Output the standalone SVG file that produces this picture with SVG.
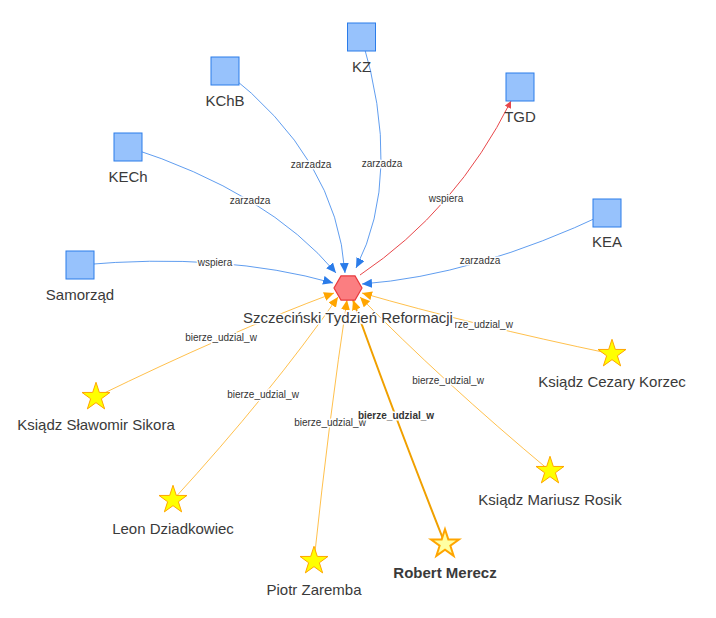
<svg xmlns="http://www.w3.org/2000/svg" width="716" height="618" viewBox="0 0 716 618">
<style>
.bg{fill:#ffffff}
.e{fill:none;stroke-width:1}
.eb{stroke:#2B7CE9;stroke-opacity:0.75;marker-end:url(#aBlue)}
.eo{stroke:#FFA500;stroke-opacity:0.7;marker-end:url(#aOrange)}
.eor{stroke:#F0A000;stroke-width:2;marker-end:url(#aOrange)}
.er{stroke:#E8474A;marker-end:url(#aRed)}
.el{font-family:"Liberation Sans",Arial,sans-serif;font-size:10px;fill:#343434;text-anchor:middle;stroke:#ffffff;stroke-width:3;paint-order:stroke;stroke-linejoin:round}
.elb{font-weight:bold}
.sq{fill:#97C2FC;stroke:#2B7CE9;stroke-width:1}
.st{fill:#FFFF00;stroke:#FFA500;stroke-width:1}
.sth{fill:#FFFFA3;stroke:#FFA500;stroke-width:2}
.hx{fill:#FB7E81;stroke:#E8393C;stroke-width:1.2}
.nl{font-family:"Liberation Sans",Arial,sans-serif;font-size:15px;fill:#3a3a3a;text-anchor:middle}
.nlc{stroke:#ffffff;stroke-width:3;paint-order:stroke;stroke-linejoin:round}
.nlb{font-weight:bold}
</style>
<defs>
<marker id="aBlue" markerUnits="userSpaceOnUse" markerWidth="11" markerHeight="9" refX="10" refY="4.5" orient="auto"><path d="M0,0 L10,4.5 L0,9 z" fill="#2B7CE9"/></marker>
<marker id="aOrange" markerUnits="userSpaceOnUse" markerWidth="11" markerHeight="9" refX="10" refY="4.5" orient="auto"><path d="M0,0 L10,4.5 L0,9 z" fill="#FFA500"/></marker>
<marker id="aRed" markerUnits="userSpaceOnUse" markerWidth="8" markerHeight="7" refX="7" refY="3.5" orient="auto"><path d="M0,0 L7,3.5 L0,7 z" fill="#E8474A"/></marker>
<polygon id="star" points="0,-14.7 3.32,-4.57 13.98,-4.54 5.37,1.75 8.64,11.89 0,5.65 -8.64,11.89 -5.37,1.75 -13.98,-4.54 -3.32,-4.57"/>
<clipPath id="clipC"><rect x="455" y="310" width="80" height="25"/></clipPath>
</defs>
<rect class="bg" x="0" y="0" width="716" height="618"/>
<g id="connectors">
<path class="e eb" d="M80,265 Q223.5,252 333,283"/>
<path class="e eb" d="M128,147 Q268,192 336,273"/>
<path class="e eb" d="M225,71 Q337,158 345,273"/>
<path class="e eb" d="M361.5,37 Q403.25,175.5 356,268"/>
<path class="e er" d="M360,275 Q456.5,210 511,101"/>
<path class="e eb" d="M607,213 Q475.5,275.5 362,284"/>
<path class="e eo" d="M612,354 Q471,324.5 362,293"/>
<path class="e eo" d="M96,397 Q227,333 334,293"/>
<path class="e eo" d="M173,500 Q270.5,393.5 338,297"/>
<path class="e eo" d="M314,561 Q329.5,415.5 347,300"/>
<path class="e eo" d="M550,471 Q441,380 360,297"/>
<path class="e eor" d="M445,544 Q393,412 353,300"/>
<text class="el" x="215" y="266">wspiera</text>
<text class="el" x="250" y="204">zarzadza</text>
<text class="el" x="311" y="168">zarzadza</text>
<text class="el" x="382" y="167">zarzadza</text>
<text class="el" x="446" y="202">wspiera</text>
<text class="el" x="480" y="264">zarzadza</text>
<text class="el" x="477" y="328" clip-path="url(#clipC)">bierze_udzial_w</text>
<text class="el" x="221" y="341">bierze_udzial_w</text>
<text class="el" x="263" y="398">bierze_udzial_w</text>
<text class="el" x="448" y="384">bierze_udzial_w</text>
<text class="el" x="330" y="426">bierze_udzial_w</text>
<text class="el elb" x="396" y="419">bierze_udzial_w</text>
</g>
<g id="node-KZ"><rect class="sq" x="347.5" y="23" width="28" height="28"/><text class="nl" x="361.5" y="72">KZ</text></g>
<g id="node-KChB"><rect class="sq" x="211" y="57" width="28" height="28"/><text class="nl" x="225" y="106">KChB</text></g>
<g id="node-TGD"><rect class="sq" x="506" y="73" width="28" height="28"/><text class="nl" x="520" y="122">TGD</text></g>
<g id="node-KECh"><rect class="sq" x="114" y="133" width="28" height="28"/><text class="nl" x="128" y="182">KECh</text></g>
<g id="node-Samorzad"><rect class="sq" x="66" y="251" width="28" height="28"/><text class="nl" x="80" y="300">Samorząd</text></g>
<g id="node-KEA"><rect class="sq" x="593" y="199" width="28" height="28"/><text class="nl" x="607" y="247">KEA</text></g>
<g id="node-STR"><polygon class="hx" points="362,288 355,300.1 341,300.1 334,288 341,275.9 355,275.9"/><text class="nl nlc" x="348" y="323">Szczeciński Tydzień Reformacji</text></g>
<g id="node-Korzec"><use href="#star" class="st" x="612" y="354"/><text class="nl" x="612" y="387">Ksiądz Cezary Korzec</text></g>
<g id="node-Sikora"><use href="#star" class="st" x="96" y="397"/><text class="nl" x="96" y="430">Ksiądz Sławomir Sikora</text></g>
<g id="node-Dziadkowiec"><use href="#star" class="st" x="173" y="500"/><text class="nl" x="173" y="534">Leon Dziadkowiec</text></g>
<g id="node-Zaremba"><use href="#star" class="st" x="314" y="561"/><text class="nl" x="314" y="595">Piotr Zaremba</text></g>
<g id="node-Merecz"><use href="#star" class="sth" x="445" y="544"/><text class="nl nlb" x="445" y="578">Robert Merecz</text></g>
<g id="node-Rosik"><use href="#star" class="st" x="550" y="471"/><text class="nl" x="550" y="505">Ksiądz Mariusz Rosik</text></g>
</svg>
